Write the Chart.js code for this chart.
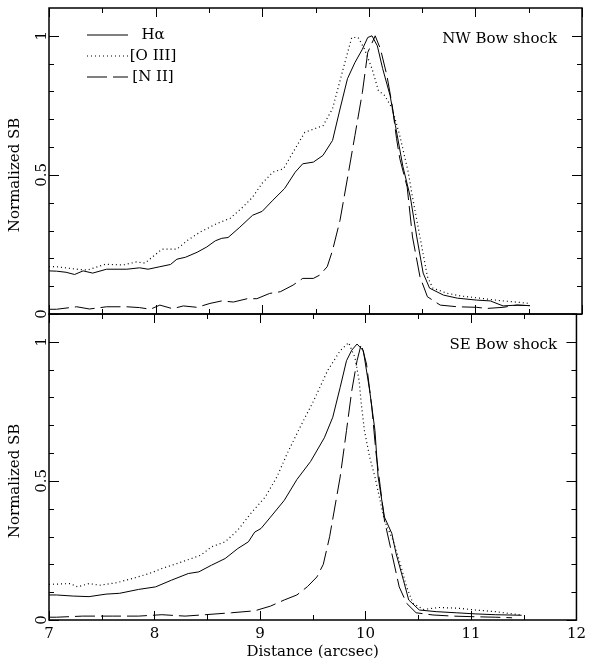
<!DOCTYPE html>
<html>
<head>
<meta charset="utf-8">
<script src="https://cdn.jsdelivr.net/npm/chart.js@4.4.0/dist/chart.umd.min.js"></script>
<style>
  html, body { margin: 0; padding: 0; background: #fff; }
  #wrap { position: relative; width: 591px; height: 664px; }
  canvas { position: absolute; left: 0; }
  #top { top: 0; }
  #bot { top: 308px; }
</style>
</head>
<body>
<div id="wrap">
  <canvas id="top" width="591" height="320"></canvas>
  <canvas id="bot" width="591" height="356"></canvas>
</div>
<script>
// NW bow shock (top panel)
const haTopX = [7.0, 7.07, 7.16, 7.24, 7.32, 7.41, 7.54, 7.73, 7.85, 7.93, 8.04, 8.14, 8.2, 8.28, 8.39, 8.48, 8.56, 8.62, 8.68, 8.79, 8.91, 9.0, 9.1, 9.21, 9.31, 9.38, 9.48, 9.57, 9.66, 9.73, 9.8, 9.87, 9.94, 9.99, 10.03, 10.08, 10.13, 10.2, 10.25, 10.32, 10.39, 10.45, 10.51, 10.57, 10.7, 10.83, 11.01, 11.14, 11.26, 11.39, 11.51];
const haTopY = [0.155, 0.154, 0.15, 0.142, 0.155, 0.147, 0.161, 0.161, 0.166, 0.161, 0.17, 0.178, 0.197, 0.204, 0.222, 0.241, 0.263, 0.272, 0.275, 0.312, 0.355, 0.369, 0.409, 0.451, 0.51, 0.54, 0.546, 0.57, 0.624, 0.737, 0.846, 0.904, 0.952, 0.994, 1.0, 0.964, 0.882, 0.785, 0.677, 0.53, 0.42, 0.277, 0.147, 0.093, 0.068, 0.057, 0.05, 0.047, 0.029, 0.032, 0.03];

const o3TopX = [7.0, 7.07, 7.26, 7.36, 7.53, 7.69, 7.82, 7.9, 8.06, 8.2, 8.3, 8.42, 8.58, 8.7, 8.82, 8.91, 9.0, 9.1, 9.2, 9.29, 9.4, 9.57, 9.66, 9.76, 9.84, 9.9, 9.96, 10.03, 10.09, 10.15, 10.22, 10.29, 10.37, 10.41, 10.48, 10.55, 10.6, 10.73, 10.86, 11.04, 11.23, 11.35, 11.51];
const o3TopY = [0.17, 0.17, 0.161, 0.158, 0.179, 0.176, 0.187, 0.183, 0.233, 0.233, 0.265, 0.295, 0.326, 0.344, 0.385, 0.42, 0.47, 0.51, 0.522, 0.582, 0.653, 0.677, 0.738, 0.882, 0.994, 0.994, 0.952, 0.882, 0.803, 0.785, 0.738, 0.642, 0.51, 0.42, 0.277, 0.134, 0.093, 0.075, 0.065, 0.057, 0.048, 0.044, 0.038];

const n2TopX = [7.0, 7.07, 7.26, 7.38, 7.54, 7.73, 7.85, 7.95, 8.04, 8.16, 8.26, 8.39, 8.51, 8.62, 8.73, 8.86, 8.95, 9.07, 9.17, 9.29, 9.38, 9.48, 9.54, 9.61, 9.66, 9.73, 9.81, 9.87, 9.94, 9.99, 10.06, 10.11, 10.17, 10.22, 10.26, 10.29, 10.36, 10.41, 10.48, 10.55, 10.67, 10.83, 11.01, 11.11, 11.26, 11.39, 11.51];
const n2TopY = [0.017, 0.017, 0.026, 0.018, 0.026, 0.026, 0.023, 0.017, 0.032, 0.019, 0.029, 0.024, 0.038, 0.047, 0.043, 0.055, 0.055, 0.074, 0.08, 0.104, 0.128, 0.128, 0.14, 0.17, 0.229, 0.337, 0.51, 0.642, 0.797, 0.94, 1.0, 0.952, 0.857, 0.749, 0.631, 0.56, 0.456, 0.277, 0.134, 0.062, 0.032, 0.026, 0.024, 0.02, 0.024, 0.032, 0.03];

// SE bow shock (bottom panel)
const haBotX = [7.0, 7.07, 7.23, 7.38, 7.54, 7.67, 7.85, 8.01, 8.16, 8.32, 8.42, 8.54, 8.67, 8.79, 8.89, 8.95, 9.01, 9.1, 9.23, 9.35, 9.48, 9.61, 9.69, 9.76, 9.82, 9.87, 9.92, 9.98, 10.04, 10.09, 10.12, 10.18, 10.25, 10.29, 10.36, 10.41, 10.51, 10.67, 10.86, 11.04, 11.23, 11.48];
const haBotY = [0.09, 0.09, 0.086, 0.084, 0.093, 0.096, 0.11, 0.119, 0.143, 0.167, 0.173, 0.197, 0.221, 0.257, 0.281, 0.316, 0.329, 0.37, 0.43, 0.505, 0.57, 0.655, 0.729, 0.836, 0.932, 0.97, 0.992, 0.968, 0.824, 0.681, 0.514, 0.37, 0.311, 0.239, 0.143, 0.072, 0.036, 0.03, 0.026, 0.022, 0.019, 0.017];

const o3BotX = [7.0, 7.07, 7.2, 7.27, 7.38, 7.48, 7.64, 7.79, 7.95, 8.07, 8.23, 8.44, 8.54, 8.67, 8.79, 8.91, 9.05, 9.16, 9.26, 9.38, 9.51, 9.64, 9.76, 9.84, 9.9, 9.94, 9.96, 9.99, 10.04, 10.09, 10.18, 10.26, 10.32, 10.39, 10.45, 10.55, 10.7, 10.89, 11.04, 11.23, 11.48];
const o3BotY = [0.128, 0.129, 0.131, 0.119, 0.131, 0.125, 0.134, 0.149, 0.167, 0.185, 0.205, 0.233, 0.263, 0.281, 0.323, 0.382, 0.442, 0.514, 0.6, 0.693, 0.789, 0.896, 0.968, 0.997, 0.944, 0.86, 0.778, 0.681, 0.585, 0.514, 0.358, 0.287, 0.215, 0.119, 0.06, 0.038, 0.045, 0.042, 0.036, 0.03, 0.018];

const n2BotX = [7.0, 7.07, 7.32, 7.6, 7.85, 8.07, 8.29, 8.48, 8.73, 8.95, 9.1, 9.23, 9.35, 9.45, 9.54, 9.6, 9.66, 9.76, 9.82, 9.87, 9.92, 9.96, 10.01, 10.06, 10.1, 10.14, 10.18, 10.25, 10.32, 10.39, 10.48, 10.64, 10.83, 11.01, 11.23, 11.39];
const n2BotY = [0.01, 0.01, 0.014, 0.014, 0.014, 0.019, 0.014, 0.019, 0.026, 0.033, 0.05, 0.072, 0.09, 0.12, 0.155, 0.2, 0.299, 0.514, 0.681, 0.824, 0.932, 0.992, 0.92, 0.765, 0.6, 0.48, 0.358, 0.239, 0.119, 0.06, 0.026, 0.018, 0.014, 0.012, 0.01, 0.008];

const lineLabels = ['H\u03B1', '[O III]', '[N II]'];
const panelNames = ['NW Bow shock', 'SE Bow shock'];
const xMajor = [7, 8, 9, 10, 11, 12];
const xMinor = [7.5, 8.5, 9.5, 10.5, 11.5];
const yMajor = [0, 0.5, 1];
const yMinor = [0.1, 0.2, 0.3, 0.4, 0.6, 0.7, 0.8, 0.9];

const FONT = "'DejaVu Serif', serif";

function pts(xs, ys) {
  return xs.map((v, i) => ({ x: v, y: ys[i] }));
}

function sets(ha, o3, n2) {
  return [
    { label: lineLabels[0], data: ha, borderColor: '#000', borderWidth: 1, borderDash: [] },
    { label: lineLabels[1], data: o3, borderColor: '#000', borderWidth: 1.2, borderDash: [1, 3] },
    { label: lineLabels[2], data: n2, borderColor: '#000', borderWidth: 1, borderDash: [20, 6] }
  ];
}

// box, inward ticks, y title, panel name and legend
const frame = {
  id: 'frame',
  afterDraw(chart, args, opts) {
    const { ctx, chartArea: a, scales: { x, y } } = chart;
    ctx.save();
    ctx.strokeStyle = '#000';
    ctx.lineWidth = 1.5;
    ctx.strokeRect(a.left, a.top, a.right - a.left, a.bottom - a.top);

    ctx.lineWidth = 1;
    ctx.beginPath();
    const xt = (v, len) => {
      const p = Math.round(x.getPixelForValue(v)) + 0.5;
      ctx.moveTo(p, a.bottom); ctx.lineTo(p, a.bottom - len);
      ctx.moveTo(p, a.top); ctx.lineTo(p, a.top + len);
    };
    const yt = (v, len) => {
      const p = Math.round(y.getPixelForValue(v)) + 0.5;
      ctx.moveTo(a.left, p); ctx.lineTo(a.left + len, p);
      ctx.moveTo(a.right, p); ctx.lineTo(a.right - len, p);
    };
    xMajor.forEach(v => xt(v, 9));
    xMinor.forEach(v => xt(v, 5));
    yMajor.forEach(v => yt(v, 10));
    yMinor.forEach(v => yt(v, 5));
    ctx.stroke();

    ctx.fillStyle = '#000';
    ctx.font = '15px ' + FONT;

    // y axis title, centred on 0.5
    ctx.save();
    ctx.translate(15, y.getPixelForValue(0.5));
    ctx.rotate(-Math.PI / 2);
    ctx.textAlign = 'center';
    ctx.textBaseline = 'middle';
    ctx.fillText('Normalized SB', 0, 0);
    ctx.restore();

    ctx.textAlign = 'right';
    ctx.textBaseline = 'middle';
    ctx.fillText(opts.name, 557, a.top + 31);

    if (opts.legend) {
      chart.data.datasets.forEach((ds, i) => {
        const ly = 35 + i * 21;
        ctx.beginPath();
        ctx.setLineDash(ds.borderDash);
        ctx.lineWidth = ds.borderWidth;
        ctx.moveTo(87, ly);
        ctx.lineTo(128, ly);
        ctx.stroke();
        ctx.setLineDash([]);
        ctx.textAlign = 'center';
        ctx.fillText(ds.label, 153, ly);
      });
    }
    ctx.restore();
  }
};

function panel(id, datasets, name, bottom) {
  return new Chart(document.getElementById(id), {
    type: 'line',
    data: { datasets: datasets },
    options: {
      responsive: false,
      animation: false,
      layout: { padding: bottom ? { top: 6, right: 9, bottom: 0, left: 0 } : { top: 8, right: 9, bottom: 6, left: 0 } },
      elements: { point: { radius: 0 }, line: { tension: 0, fill: false } },
      plugins: {
        legend: { display: false },
        tooltip: { enabled: false },
        frame: { name: name, legend: !bottom }
      },
      scales: {
        x: {
          type: 'linear', min: 7, max: 12,
          display: bottom,
          grid: { display: false, drawTicks: false },
          border: { display: false },
          afterBuildTicks: s => { s.ticks = xMajor.map(v => ({ value: v })); },
          ticks: { color: '#000', font: { family: FONT, size: 15 }, padding: 5, callback: v => String(v) },
          title: { display: true, text: 'Distance (arcsec)', color: '#000', font: { family: FONT, size: 15 }, padding: { top: 0, bottom: 3 } },
          afterFit: s => { s.height = bottom ? 44 : 0; }
        },
        y: {
          min: 0, max: 1.1,
          grid: { display: false, drawTicks: false },
          border: { display: false },
          afterBuildTicks: s => { s.ticks = yMajor.map(v => ({ value: v })); },
          ticks: { color: '#000', font: { family: FONT, size: 15 }, minRotation: 90, maxRotation: 90, crossAlign: 'center', padding: -5, callback: v => String(v) },
          afterFit: s => { s.width = 49; }
        }
      }
    },
    plugins: [frame]
  });
}

panel('top', sets(pts(haTopX, haTopY), pts(o3TopX, o3TopY), pts(n2TopX, n2TopY)), panelNames[0], false);
panel('bot', sets(pts(haBotX, haBotY), pts(o3BotX, o3BotY), pts(n2BotX, n2BotY)), panelNames[1], true);
</script>
</body>
</html>
